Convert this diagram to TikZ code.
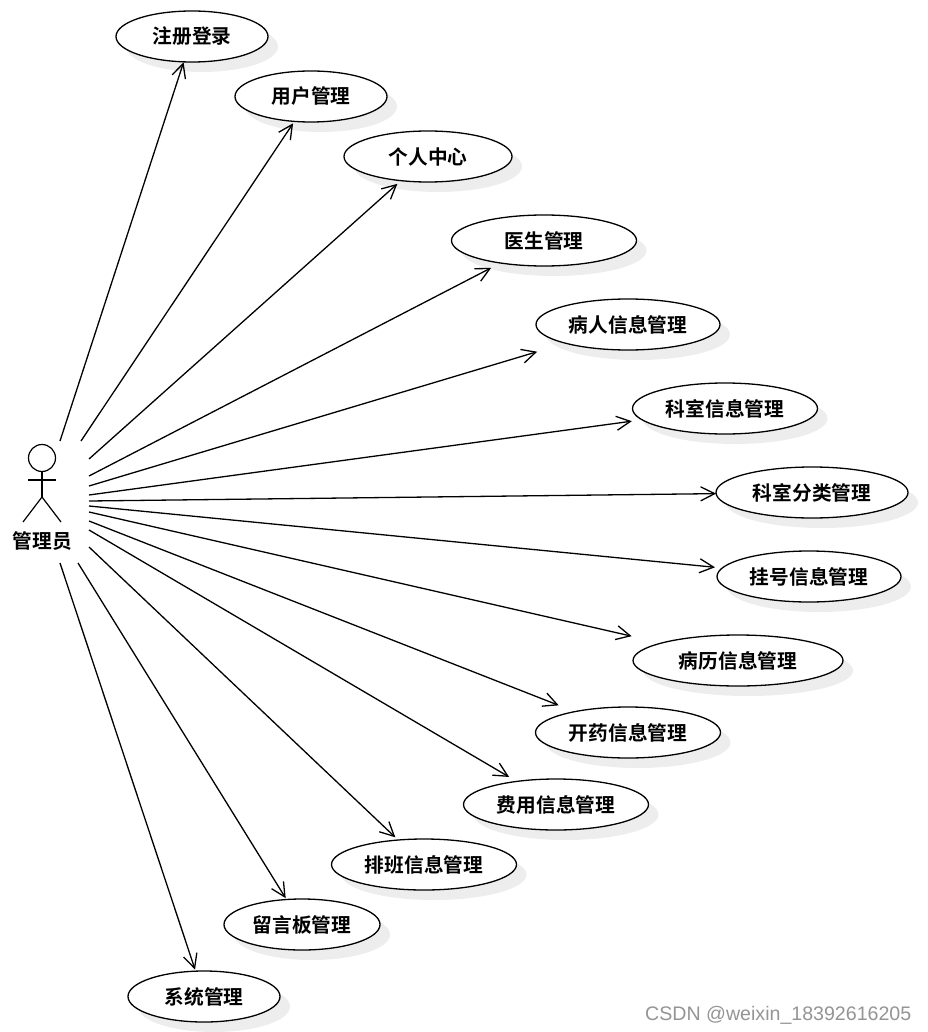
\documentclass[tikz,border=0pt]{standalone}
\usepackage{fontspec}
\usepackage{tikz}
\usepackage{xcolor}
\usetikzlibrary{shapes.geometric,shadows,arrows.meta}
\setmainfont{Liberation Sans}
\newfontfamily\cjk{Noto Sans CJK SC}[BoldFont={Noto Sans CJK SC Bold}]
\begin{document}
\begin{tikzpicture}[x=1pt,y=-1pt,line width=1.3pt,
  every node/.style={font=\fontsize{19.7}{22}\selectfont\cjk\bfseries},
  usecase/.style={ellipse,draw,fill=white,minimum height=51pt,inner sep=0pt,outer sep=0pt,
    drop shadow={shadow xshift=10pt,shadow yshift=-10pt,fill=black!7,opacity=1}},
  assoc/.style={-{Straight Barb[length=14pt,width=14pt,line width=1.3pt]}}]
\useasboundingbox (0,0) rectangle (927,1032);
\node[usecase,minimum width=152pt] (login) at (192,36.5) {注册登录};
\node[usecase,minimum width=152pt] (user) at (311,96.5) {用户管理};
\node[usecase,minimum width=168pt] (center) at (428,156.5) {个人中心};
\node[usecase,minimum width=185pt] (doctor) at (544,240.5) {医生管理};
\node[usecase,minimum width=184pt] (patient) at (628,324.5) {病人信息管理};
\node[usecase,minimum width=185pt] (dept) at (725,408.5) {科室信息管理};
\node[usecase,minimum width=192pt] (deptcat) at (812,492.5) {科室分类管理};
\node[usecase,minimum width=184pt] (reg) at (809,576.5) {挂号信息管理};
\node[usecase,minimum width=210pt] (record) at (738,660.5) {病历信息管理};
\node[usecase,minimum width=185pt] (drug) at (628,732.5) {开药信息管理};
\node[usecase,minimum width=185pt] (fee) at (556,804.5) {费用信息管理};
\node[usecase,minimum width=185pt] (shift) at (424,864.5) {排班信息管理};
\node[usecase,minimum width=156pt] (board) at (302,924.5) {留言板管理};
\node[usecase,minimum width=152pt] (system) at (204,996.5) {系统管理};
\node (admin) at (42.5,541) {管理员};
\draw[line width=1.2pt] (42,458) circle (13.5);
\draw[line width=1.2pt] (42,471.5) -- (42,497);
\draw[line width=1.2pt] (28,480) -- (55.5,480);
\draw[line width=1.2pt] (23,522) -- (42,497) -- (61,522);
\coordinate (a1) at (60,441);
\coordinate (a2) at (81,441);
\coordinate (a3) at (89,459);
\coordinate (a4) at (89,476);
\coordinate (a5) at (89,486);
\coordinate (a6) at (89,495);
\coordinate (a7) at (89,501);
\coordinate (a8) at (89,506);
\coordinate (a9) at (89,512);
\coordinate (a10) at (89,521);
\coordinate (a11) at (89,530);
\coordinate (a12) at (89,547);
\coordinate (a13) at (78,563);
\coordinate (a14) at (60,563);
\draw[assoc,shorten >=0.5pt] (a1) -- (login);
\draw[assoc,shorten >=2.3pt] (a2) -- (user);
\draw[assoc,shorten >=4.8pt] (a3) -- (center);
\draw[assoc,shorten >=10.5pt] (a4) -- (doctor);
\draw[assoc,shorten >=29.6pt] (a5) -- (patient);
\draw[assoc,shorten >=10.3pt] (a6) -- (dept);
\draw[assoc] (a7) -- (deptcat);
\draw[assoc,shorten >=7.3pt] (a8) -- (reg);
\draw[assoc,shorten >=30.7pt] (a9) -- (record);
\draw[assoc,shorten >=17.3pt] (a10) -- (drug);
\draw[assoc,shorten >=8.8pt] (a11) -- (fee);
\draw[assoc,shorten >=3.9pt] (a12) -- (shift);
\draw[assoc,shorten >=1.6pt] (a13) -- (board);
\draw[assoc,shorten >=1.7pt] (a14) -- (system);
\node[font=\fontsize{19.6}{22}\selectfont\rmfamily,text=black!42,anchor=east,inner sep=0pt] (mark) at (912,1015) {CSDN @weixin\_18392616205};
\end{tikzpicture}
\end{document}
